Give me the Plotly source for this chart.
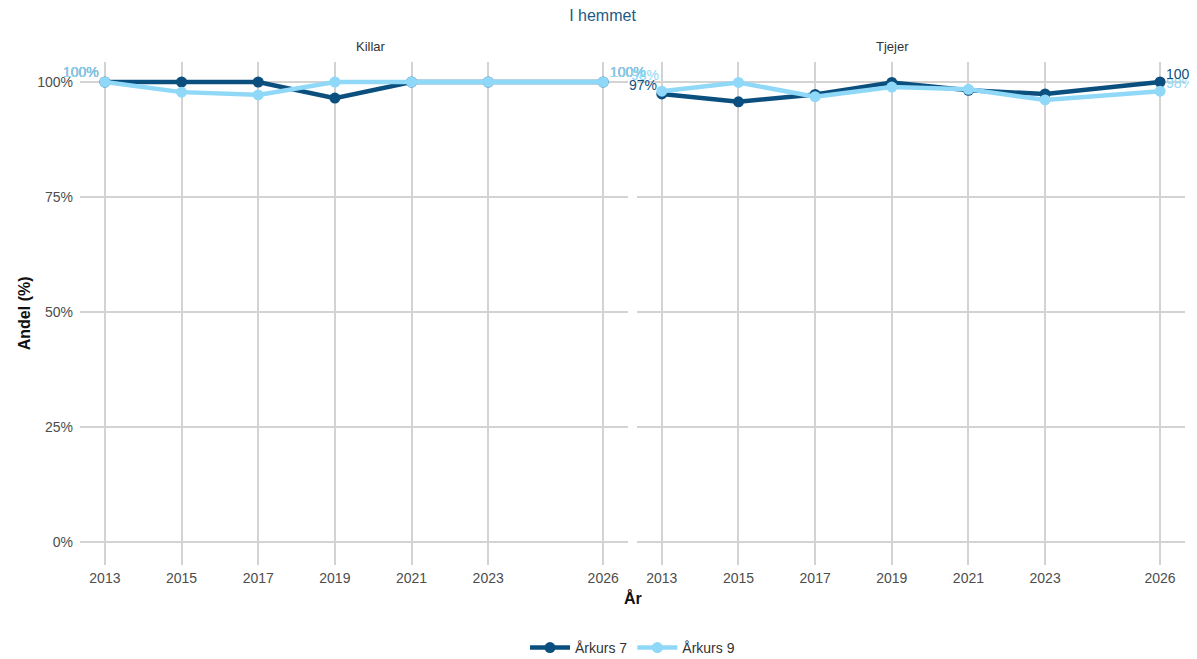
import plotly.graph_objects as go

years = [2013, 2015, 2017, 2019, 2021, 2023, 2026]
tick_years = [2013, 2015, 2017, 2019, 2021, 2023, 2026]

killar_ak7 = [100, 100, 100, 96.5, 100, 100, 100]
killar_ak9 = [100, 97.8, 97.2, 100, 100, 100, 100]
tjejer_ak7 = [97.4, 95.7, 97.3, 99.9, 98.2, 97.4, 100]
tjejer_ak9 = [98.0, 99.9, 96.8, 98.9, 98.4, 96.1, 98.0]

series_names = ["Årkurs 7", "Årkurs 9"]
panel_names = ["Killar", "Tjejer"]
dark = "#0b4f7e"
light = "#8fd8f7"

FONT = "Liberation Sans, Arial, sans-serif"
fig = go.Figure()

panels = [("x", "y", killar_ak7, killar_ak9), ("x2", "y2", tjejer_ak7, tjejer_ak9)]

for i, (xa, ya, v7, v9) in enumerate(panels):
    for name, vals, col in [(series_names[0], v7, dark), (series_names[1], v9, light)]:
        fig.add_trace(go.Scatter(
            x=years, y=vals, mode="lines+markers", name=name,
            line=dict(color=col, width=4.5), marker=dict(color=col, size=11),
            xaxis=xa, yaxis=ya, showlegend=(i == 0), legendgroup=name,
        ))


def label(xref, yref, xv, yv, col, side, xs, ys):
    return dict(text=f"{round(yv)}%", x=xv, y=yv, xref=xref, yref=yref,
                xanchor=side, yanchor="middle", xshift=xs, yshift=ys, showarrow=False,
                font=dict(size=14, color=col, family=FONT))


annotations = [
    # Killar, Årkurs 7 (under the Årkurs 9 labels)
    label("x", "y", years[0], killar_ak7[0], dark, "right", -4, 10),
    label("x", "y", years[-1], killar_ak7[-1], dark, "left", 5, 10),
    # Tjejer, Årkurs 9
    label("x2", "y2", years[0], tjejer_ak9[0], light, "right", -1, 16),
    label("x2", "y2", years[-1], tjejer_ak9[-1], light, "left", 4, 8),
    # Killar, Årkurs 9
    label("x", "y", years[0], killar_ak9[0], light, "right", -4, 10),
    label("x", "y", years[-1], killar_ak9[-1], light, "left", 5, 10),
    # Tjejer, Årkurs 7
    label("x2", "y2", years[0], tjejer_ak7[0], dark, "right", -3, 9),
    label("x2", "y2", years[-1], tjejer_ak7[-1], dark, "left", 4, 8),
]

axis_common = dict(
    range=[2012.35, 2026.65], tickvals=tick_years, ticktext=[str(t) for t in tick_years],
    showgrid=True, gridcolor="#d3d3d3", gridwidth=1.5, zeroline=False, showline=False,
    tickfont=dict(size=14, color="#4d4d4d", family=FONT), ticks="", ticklen=0,
    ticklabelstandoff=3,
)
yaxis_common = dict(
    range=[-5, 104.35], tickvals=[0, 25, 50, 75, 100],
    ticktext=["0%", "25%", "50%", "75%", "100%"],
    showgrid=True, gridcolor="#d3d3d3", gridwidth=1.5, zeroline=False, showline=False,
    tickfont=dict(size=14, color="#4d4d4d", family=FONT), ticks="",
    ticklabelstandoff=6,
)

fig.update_layout(
    width=1189, height=651,
    margin=dict(l=72, r=12, t=54, b=94, autoexpand=False),
    paper_bgcolor="white", plot_bgcolor="white",
    font=dict(family=FONT),
    xaxis=dict(domain=[0, 0.496], anchor="y", **axis_common),
    xaxis2=dict(domain=[0.504, 1], anchor="y2", **axis_common),
    yaxis=dict(domain=[0, 1], anchor="x", **yaxis_common),
    yaxis2=dict(domain=[0, 1], anchor="x2", matches="y", showticklabels=False,
                **{k: v for k, v in yaxis_common.items() if k not in ("tickvals", "ticktext")},
                tickvals=[0, 25, 50, 75, 100]),
    title=dict(text="I hemmet", x=0.5, xanchor="center", y=(651 - 7) / 651, yanchor="middle",
               font=dict(size=16, color="#1d5a86", family=FONT)),
    legend=dict(orientation="h", x=0.5, xanchor="center", y=-0.165, yanchor="middle",
                font=dict(size=14, color="#333333", family=FONT), itemwidth=40),
    showlegend=True,
    annotations=annotations + [
        dict(text=panel_names[0], x=0.248, y=1.0, xref="paper", yref="paper", yshift=16,
             yanchor="middle", showarrow=False, font=dict(size=13, color="#333333", family=FONT)),
        dict(text=panel_names[1], x=0.752, y=1.0, xref="paper", yref="paper", yshift=16,
             yanchor="middle", showarrow=False, font=dict(size=13, color="#333333", family=FONT)),
        dict(text="<b>År</b>", x=0.5, y=-0.066, xref="paper", yref="paper", yanchor="middle",
             showarrow=False, font=dict(size=16, color="#111111", family=FONT)),
        dict(text="<b>Andel (%)</b>", x=-0.05, y=0.5, xref="paper", yref="paper",
             xanchor="center", yanchor="middle", textangle=-90,
             showarrow=False, font=dict(size=16, color="#111111", family=FONT)),
    ],
)

fig.write_html("out.html")
